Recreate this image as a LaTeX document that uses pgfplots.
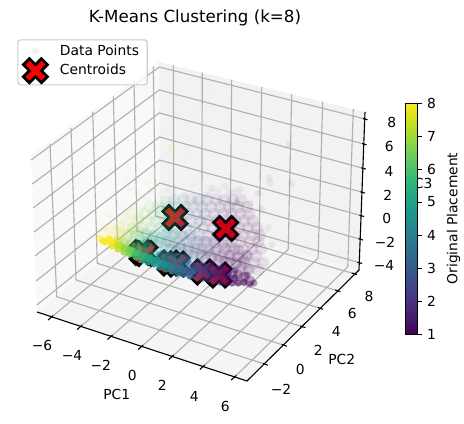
\documentclass[border=0pt]{standalone}
\usepackage{fontspec}
\setmainfont{DejaVu Sans}
\usepackage{pgfplots}
\pgfplotsset{compat=1.18}
\pgfdeclareplotmark{bigX}{%
\pgfpathmoveto{\pgfpoint{-4.33bp}{-8.66bp}}\pgfpathlineto{\pgfpoint{0bp}{-4.33bp}}%
\pgfpathlineto{\pgfpoint{4.33bp}{-8.66bp}}\pgfpathlineto{\pgfpoint{8.66bp}{-4.33bp}}%
\pgfpathlineto{\pgfpoint{4.33bp}{0bp}}\pgfpathlineto{\pgfpoint{8.66bp}{4.33bp}}%
\pgfpathlineto{\pgfpoint{4.33bp}{8.66bp}}\pgfpathlineto{\pgfpoint{0bp}{4.33bp}}%
\pgfpathlineto{\pgfpoint{-4.33bp}{8.66bp}}\pgfpathlineto{\pgfpoint{-8.66bp}{4.33bp}}%
\pgfpathlineto{\pgfpoint{-4.33bp}{0bp}}\pgfpathlineto{\pgfpoint{-8.66bp}{-4.33bp}}%
\pgfpathclose\pgfusepathqfillstroke}
\pgfplotsset{cloud/.style 2 args={scatter,only marks,scatter src=explicit,mark=*,mark size=#2bp,
  scatter/use mapped color={draw opacity=0,fill=mapped color,fill opacity=#1}}}
\begin{document}
\begin{tikzpicture}
\path[use as bounding box] (0,0) rectangle (334.08bp,305.28bp);
\begin{axis}[at={(0,0)},anchor=south west,scale only axis,width=334.08bp,height=305.28bp,
  xmin=0,xmax=464,ymin=0,ymax=424,y dir=reverse,hide axis,unbounded coords=jump,
  colormap/viridis,point meta min=1,point meta max=8,
  colorbar,
  colorbar style={at={(405.7/464,90/424)},anchor=south west,width=8.4bp,height=166.3bp,
    ytick={1,2,3,4,5,6,7,8},ylabel={Original Placement},ytick pos=right,tick align=outside,
    /pgf/number format/assume math mode=true,
    axis line style={line width=0.6bp},
    ylabel style={yshift=-1bp},
    major tick length=3.5bp,tick style={black,line width=0.6bp}},
  legend style={at={(17.3/464,1-39.3/424)},anchor=north west,draw=black!20,rounded corners=2bp,
    fill opacity=0.8,text opacity=1,draw opacity=1,line width=0.8bp,cells={anchor=west},
    inner xsep=4bp,inner ysep=1.5bp,row sep=-1bp,/tikz/column 1/.style={column sep=7bp}},
  legend cell align=left]
% panes
\addplot[draw=none,fill=black!2.5,forget plot] coordinates {(31,155)(159,62)(160,212)(37,312)} -- cycle;
\addplot[draw=none,fill=black!5,forget plot] coordinates {(159,62)(365,112)(359,270)(160,212)} -- cycle;
\addplot[draw=none,fill=black!3.75,forget plot] coordinates {(37,312)(247,381)(359,270)(160,212)} -- cycle;
% grid
\addplot[color=black!31,line width=0.8bp,forget plot] coordinates {
(51.7,317)(173.8,215.9)(173.3,65.5)(nan,nan)
(80.7,326.5)(201.8,224)(202.3,72.5)(nan,nan)
(111,336.5)(230.2,232.3)(231.7,79.6)(nan,nan)
(141.7,346.5)(259.2,241)(261.7,86.9)(nan,nan)
(172.3,356.5)(288.2,249.4)(291.7,94.2)(nan,nan)
(203.3,366.5)(318.1,258.1)(322.7,101.7)(nan,nan)
(234.7,377)(347.7,267)(353.3,109.1)(nan,nan)
(264.3,364)(56.7,296.7)(50,143.8)(nan,nan)
(283.3,345)(76,280)(71,128)(nan,nan)
(301.7,326.5)(97.3,263.3)(92.7,111.7)(nan,nan)
(319.3,308)(117.5,247)(113.3,96.3)(nan,nan)
(336.7,290.5)(137,231)(134,80.8)(nan,nan)
(353.3,273.5)(155.5,216)(153.3,66.3)(nan,nan)
(365,119)(159.2,67)(31,160)(nan,nan)
(364,144)(159.3,90)(32.2,184)(nan,nan)
(363.3,168.3)(159.4,113)(33.1,208)(nan,nan)
(362.4,192.3)(159.5,137)(34,232)(nan,nan)
(361.5,215.7)(159.6,160)(35,256)(nan,nan)
(360.5,239.2)(159.8,183)(36,281)(nan,nan)
(359.5,262.7)(159.9,206)(36.8,305)};
% axis lines and ticks
\addplot[black,line width=0.8bp,forget plot] coordinates {(37,312)(247,381)(359,270)(365,112)};
\addplot[black,line width=0.8bp,forget plot] coordinates {
(48.2,320)(53.2,315.5)(nan,nan)(77.2,329.5)(82.2,325)(nan,nan)(107.5,339.5)(112.5,335)(nan,nan)
(138.2,349.5)(143.2,345)(nan,nan)(168.8,359.5)(173.8,355)(nan,nan)(199.8,369.5)(204.8,365)(nan,nan)(231.2,380)(236.2,375.5)(nan,nan)
(262.8,363.5)(268,365.2)(nan,nan)(281.8,344.5)(287,346.2)(nan,nan)(300.2,326)(305.4,327.7)(nan,nan)
(317.8,307.5)(323,309.2)(nan,nan)(335.2,290)(340.4,291.7)(nan,nan)(351.8,273)(357,274.7)(nan,nan)
(363,118.5)(367.5,119.8)(nan,nan)(362,143.5)(366.5,144.8)(nan,nan)(361.3,167.8)(365.8,169.1)(nan,nan)
(360.4,191.8)(364.9,193.1)(nan,nan)(359.5,215.2)(364,216.5)(nan,nan)(358.5,238.7)(363,240)(nan,nan)(357.5,262.2)(362,263.5)};
% centroids
\addplot[only marks,mark=bigX,mark options={fill=red,draw=black,line width=2bp,miter limit=10},forget plot] coordinates {
(175,217.5)(225.7,228.5)(142,252.5)(145,253.5)(170,263)(177,264)(203.5,272)(219,275)};
% data points: sparse outliers
\addplot[cloud={0.06}{2.6},forget plot] table[x=x,y=y,meta=m] {
x y m
112 230 8
118 225 7.6
105 228 8
125 212 7.2
132 205 6.5
140 210 7
147 200 6.5
155 205 6
193 184 7.5
195 200 3
205 195 3
212 188 2.2
225 186 1.5
240 190 1
258 193 1
250 203 1
237 202 1
235 192 1
229 192 1.1
218 191 1.6
210 193 2
262 210 1
268 228 1
272 245 1
269 178 1
270 183 1
291 184 1
289 144 1
213 92 8
177 114 8
195 112 8
159 132 8
172 148 8
188 152 8
147 183 7.5
127 167 8
110 170 8
127 178 8
97 223 8
123 223 7.5
143 208 6.5
170 148 8
160 195 7
168 190 6
185 195 4
150 190 6.5
140 195 7
130 190 7.5
120 205 7.8
110 215 8
};
% broad haze
\addplot[cloud={0.09}{4.5},forget plot] table[x=x,y=y,meta=m] {
x y m
104 234 8
110 229 8
116 232 7.7
120 226 7.6
126 220 7.4
132 214 7.2
138 218 7
113 238 8
120 236 7.6
166 202 5.5
174 200 4.8
183 200 3.8
191 200 3
199 200 2.5
207 200 2.2
216 200 1.7
224 200 1.4
233 200 1.1
241 200 1
150 207 6.5
159 207 6
168 207 5.5
176 207 4.8
185 207 3.5
193 207 2.8
202 207 2.4
211 207 2
220 207 1.5
229 207 1.2
238 207 1
247 207 1
145 214 6.8
153 214 6.2
162 214 5.8
171 214 5.2
179 214 4.2
188 214 3.1
197 214 2.7
205 214 2.2
214 214 1.8
223 214 1.4
231 214 1.1
240 214 1
249 214 1
138 221 7
147 221 6.6
156 221 6.1
165 221 5.6
173 221 4.9
182 221 3.8
191 221 2.9
200 221 2.5
208 221 2.1
217 221 1.6
226 221 1.3
235 221 1
244 221 1
253 221 1
133 228 7.2
142 228 6.8
151 228 6.4
160 228 5.8
168 228 5.2
177 228 4.2
186 228 3.2
195 228 2.8
204 228 2.3
212 228 1.9
221 228 1.5
230 228 1.1
239 228 1
248 228 1
257 228 1
128 235 7.4
137 235 6.8
146 235 6.2
155 235 5.7
164 235 5.1
172 235 4.4
181 235 3.4
190 235 3
199 235 2.5
208 235 2.1
217 235 1.6
226 235 1.3
235 235 1
243 235 1
252 235 1
260 235 1
125 242 7
134 242 6.3
143 242 5.6
152 242 5.1
161 242 4.6
170 242 4
179 242 3.5
188 242 3.1
197 242 2.7
205 242 2.2
214 242 1.8
223 242 1.4
232 242 1.1
241 242 1
250 242 1
258 242 1
171 249 3.9
180 249 3.5
189 249 3
198 249 2.6
207 249 2.1
216 249 1.7
225 249 1.3
234 249 1
243 249 1
252 249 1
261 249 1
193 256 2.8
202 256 2.4
211 256 1.9
220 256 1.5
229 256 1.2
238 256 1
247 256 1
256 256 1
218 263 1.6
227 263 1.2
236 263 1
245 263 1
254 263 1
263 263 1
240 270 1
249 270 1
258 270 1
};
% haze that lies over the upper centroids
\addplot[cloud={0.14}{4.5},forget plot] table[x=x,y=y,meta=m] {
x y m
169 212 5.6
181 212 4.8
169 223 5.4
181 223 4.6
175 217 5
};
\addplot[cloud={0.07}{4.5},forget plot] table[x=x,y=y,meta=m] {
x y m
220 223 1.2
232 223 1
220 234 1.2
232 234 1
226 228 1
};
% denser haze over the band
\addplot[cloud={0.15}{4},forget plot] table[x=x,y=y,meta=m] {
x y m
122 232 7.4
128 234 6.8
134 236 6.2
140 239 5.7
146 241 5.3
152 243 4.9
158 245 4.6
164 247 4.2
170 249 4
176 251 3.7
182 252 3.4
188 254 3
194 255 2.8
200 256 2.5
206 257 2.2
212 259 1.9
218 260 1.6
224 261 1.4
230 262 1.2
236 264 1
242 266 1
248 270 1
132 228 6.8
139 231 6.2
146 233 5.6
153 236 5.1
160 238 4.7
167 241 4.2
174 243 3.8
181 245 3.4
188 247 3
195 248 2.8
202 249 2.4
209 251 2
216 252 1.7
223 254 1.4
230 255 1.2
237 257 1
244 260 1
167 232 4.8
175 234 4
183 236 3.3
191 238 2.9
199 240 2.5
207 241 2.1
215 243 1.7
223 245 1.4
231 247 1.2
239 250 1
247 255 1
};
\addplot[cloud={0.35}{4},forget plot] table[x=x,y=y,meta=m] {
x y m
118 241 7.4
124 243 6.9
130 245 6.5
136 248 5.9
142 250 5.5
148 252 5.1
154 254 4.8
160 257 4.5
166 259 4.2
172 261 3.9
178 263 3.6
184 264 3.3
190 266 3
196 267 2.7
202 268 2.4
208 269 2.1
214 271 1.8
220 272 1.5
226 273 1.3
232 273 1.1
238 275 1
244 277 1
250 281 1
};
\addplot[cloud={0.35}{2.6},forget plot] table[x=x,y=y,meta=m] {
x y m
187 260 3.1
199 262 2.5
211 265 1.9
223 267 1.4
235 270 1
247 275 1
250 284 1
254 283 1
};
% thick part of the cloud over the lower centroids
\addplot[cloud={0.3}{4},forget plot] table[x=x,y=y,meta=m] {
x y m
136 247 5.8
148 247 5.2
142 245 5.5
};
\addplot[cloud={0.5}{4.5},forget plot] table[x=x,y=y,meta=m] {
x y m
163 256 4.3
170 258 4
178 259 3.6
185 260 3.3
};
\addplot[cloud={0.45}{4.5},forget plot] table[x=x,y=y,meta=m] {
x y m
196 268 2.7
203 268 2.4
210 270 2
219 271 1.6
226 272 1.3
};
\addplot[cloud={0.6}{2.6},forget plot] table[x=x,y=y,meta=m] {
x y m
196 277 2.7
202 278 2.4
208 279 2.1
214 281 1.8
220 282 1.5
226 283 1.3
232 283 1.1
238 283 1
244 282 1
199 272 2.5
205 273 2.2
211 275 1.9
217 276 1.6
223 277 1.4
229 278 1.2
235 278 1
};
\addplot[cloud={0.85}{2.6},forget plot] table[x=x,y=y,meta=m] {
x y m
106 242 8
112 246 7.8
118 249 7.4
124 252 6.9
130 254 6.5
136 257 5.9
142 260 5.5
148 262 5.1
154 264 4.8
160 267 4.5
166 269 4.2
172 271 3.9
178 273 3.6
184 274 3.3
190 276 3
109 239 8
115 243 7.6
121 246 7.2
127 249 6.7
133 251 6.2
139 253 5.7
145 256 5.3
151 258 5
157 260 4.6
163 263 4.3
169 265 4
175 267 3.7
181 268 3.4
187 270 3.1
193 271 2.9
103 241 8
112 241 8
118 245 7.4
124 248 6.9
130 250 6.5
136 253 5.9
142 256 5.5
148 258 5.1
154 261 4.8
160 263 4.5
166 265 4.2
172 267 3.9
178 269 3.6
184 270 3.3
190 272 3
};
\addplot[cloud={0.35}{2.6},forget plot] table[x=x,y=y,meta=m] {
x y m
98 238 8
102 239 8
};
% legend
\addlegendimage{only marks,mark=*,mark size=2.6bp,mark options={draw opacity=0,fill=teal,fill opacity=0.08}}
\addlegendentry{Data Points}
\addlegendimage{only marks,mark=bigX,mark options={fill=red,fill opacity=1,draw=black,line width=2bp,miter limit=10}}
\addlegendentry{Centroids}
% labels
\node at (195,18) {\fontsize{12bp}{14bp}\selectfont K-Means Clustering (k=8)};
\node at (42,345.7) {−6};\node at (72,355.7) {−4};\node at (100.7,365.7) {−2};
\node at (132.3,375.7) {0};\node at (162.3,385.7) {2};\node at (194.3,396) {4};\node at (225.3,406) {6};
\node at (116.7,394) {PC1};
\node at (281,389.3) {−2};\node at (300.3,369.3) {0};\node at (318.3,350.7) {2};
\node at (336.3,331.7) {4};\node at (352.3,313.3) {6};\node at (369,296.7) {8};
\node at (341.7,359.3) {PC2};
\node at (391.7,122.3) {8};\node at (389.3,146.7) {6};\node at (389,171) {4};\node at (387.7,195) {2};
\node at (386.7,218.3) {0};\node at (385,242) {−2};\node at (384,265.7) {−4};
\node at (419,183) {PC3};
\end{axis}
\end{tikzpicture}
\end{document}
